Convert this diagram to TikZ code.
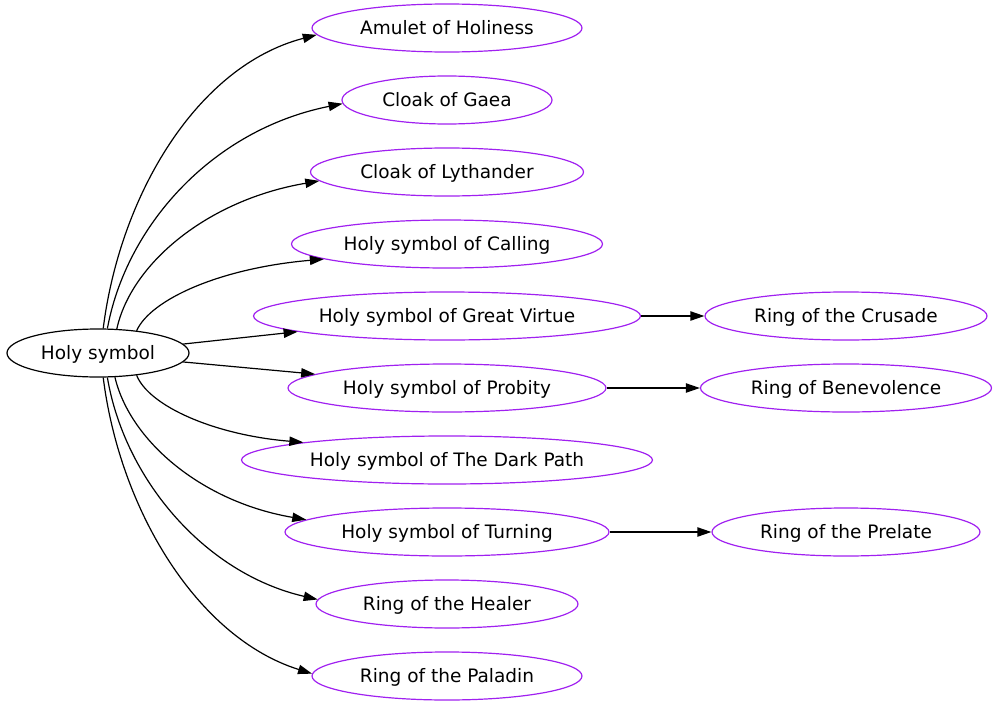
\documentclass[tikz,border=0pt]{standalone}
\usepackage{fontspec}
\setmainfont{DejaVu Sans}
\usetikzlibrary{shapes.geometric,arrows.meta}
\definecolor{gvpurple}{HTML}{A020F0}
\tikzset{
  base/.style={ellipse, draw, line width=1.2pt, inner sep=0pt, minimum height=48pt, text height=15pt, text depth=1.5pt, font=\fontsize{18.5}{22}\selectfont},
  src/.style={base, draw=black},
  item/.style={base, draw=gvpurple},
  edge/.style={line width=1.2pt, -{Triangle[length=14pt,width=9.3pt]}},
}
\begin{document}
\begin{tikzpicture}[x=1pt,y=-1pt]
\useasboundingbox (0,0) rectangle (997,707);
\node[src, minimum width=182pt] (hs) at (98,353) {Holy symbol};
\node[item, minimum width=270pt] (amulet) at (447,28) {Amulet of Holiness};
\node[item, minimum width=210pt] (gaea) at (447,100) {Cloak of Gaea};
\node[item, minimum width=273pt] (lyth) at (447,172) {Cloak of Lythander};
\node[item, minimum width=311pt] (call) at (447,244) {Holy symbol of Calling};
\node[item, minimum width=387pt] (gv) at (447,316) {Holy symbol of Great Virtue};
\node[item, minimum width=318pt] (prob) at (447,388) {Holy symbol of Probity};
\node[item, minimum width=411pt] (dark) at (447,460) {Holy symbol of The Dark Path};
\node[item, minimum width=324pt] (turn) at (447,532) {Holy symbol of Turning};
\node[item, minimum width=262pt] (heal) at (447,604) {Ring of the Healer};
\node[item, minimum width=270pt] (pal) at (447,676) {Ring of the Paladin};
\node[item, minimum width=282pt] (crus) at (846,316) {Ring of the Crusade};
\node[item, minimum width=291pt] (bene) at (846,388) {Ring of Benevolence};
\node[item, minimum width=268pt] (prel) at (846,532) {Ring of the Prelate};

\draw[edge] (hs.78) .. controls (120,195) and (197,66) .. (amulet.183);
\draw[edge] (hs.69) .. controls (126,227) and (211,130) .. (gaea.182);
\draw[edge] (hs.52) .. controls (131,264) and (207,200) .. (lyth.184);
\draw[edge] (hs.30) .. controls (151,299) and (221,268) .. (call.187);
\draw[edge] (hs.6) -- (gv.186);
\draw[edge] (hs.354) -- (prob.174);
\draw[edge] (hs.330) .. controls (149,406) and (214,435) .. (dark.173);
\draw[edge] (hs.305) .. controls (130,441) and (202,502) .. (turn.175);
\draw[edge] (hs.291) .. controls (124,477) and (203,573) .. (heal.178);
\draw[edge] (hs.282) .. controls (120,511) and (198,638) .. (pal.179);
\draw[edge] (gv) -- (crus);
\draw[edge] (prob) -- (bene);
\draw[edge] (turn) -- (prel);
\end{tikzpicture}
\end{document}
